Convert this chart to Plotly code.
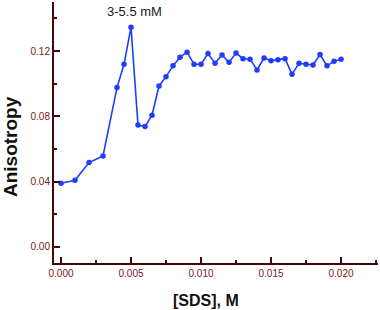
import plotly.graph_objects as go

sds = [0.0, 0.001, 0.002, 0.003, 0.004, 0.0045, 0.005, 0.0055, 0.006, 0.0065, 0.007,
       0.0075, 0.008, 0.0085, 0.009, 0.0095, 0.010, 0.0105, 0.011, 0.0115, 0.012,
       0.0125, 0.013, 0.0135, 0.014, 0.0145, 0.015, 0.0155, 0.016, 0.0165, 0.017,
       0.0175, 0.018, 0.0185, 0.019, 0.0195, 0.020]
anisotropy = [0.0390, 0.0408, 0.0517, 0.0557, 0.0976, 0.1119, 0.1346, 0.0747, 0.0737, 0.0807, 0.0986,
              0.1043, 0.1109, 0.1162, 0.1193, 0.1119, 0.1119, 0.1184, 0.1125, 0.1176, 0.1131,
              0.1187, 0.1153, 0.1150, 0.1084, 0.1157, 0.1141, 0.1147, 0.1153, 0.1058, 0.1125,
              0.1119, 0.1115, 0.1178, 0.1109, 0.1138, 0.1150]
annotation_text = "3-5.5 mM"
x_title = "[SDS], M"
y_title = "Anisotropy"

L, R, T, B = 54, 2, 2, 47
W, H = 380, 310
pw, ph = W - L - R, H - T - B

def px(xp):
    return (xp - L) / pw

def py(yp):
    return (H - B - yp) / ph

axis_col = "#4a0505"
lab_col = "#7a2020"
font_fam = "Liberation Sans, Arial, sans-serif"

fig = go.Figure()
fig.add_trace(go.Scatter(
    x=sds, y=anisotropy, mode="lines+markers",
    line=dict(color="#1f3cff", width=1.6),
    marker=dict(color="#1f3cff", size=5.5),
    showlegend=False,
))

fig.update_layout(
    width=W, height=H,
    margin=dict(l=L, r=R, t=T, b=B, autoexpand=False),
    paper_bgcolor="white", plot_bgcolor="white",
    font=dict(family=font_fam),
    xaxis=dict(
        range=[-0.0005, 0.02264], tick0=0, dtick=0.005, tickformat=".3f",
        showgrid=False, zeroline=False, automargin=False,
        showline=True, linecolor=axis_col, linewidth=2,
        ticks="inside", ticklen=6, tickwidth=2, tickcolor=axis_col,
        tickfont=dict(size=10, color=lab_col, family=font_fam),
        minor=dict(ticks="inside", ticklen=3, tickwidth=2, tickcolor=axis_col, dtick=0.0025, tick0=0, showgrid=False),
    ),
    yaxis=dict(
        range=[-0.0098, 0.150], tick0=0, dtick=0.04, tickformat=".2f",
        showgrid=False, zeroline=False, automargin=False,
        showline=True, linecolor=axis_col, linewidth=2,
        ticks="inside", ticklen=6, tickwidth=2, tickcolor=axis_col,
        tickfont=dict(size=10, color=lab_col, family=font_fam),
        minor=dict(ticks="inside", ticklen=3, tickwidth=2, tickcolor=axis_col, dtick=0.02, tick0=0, showgrid=False),
    ),
    annotations=[
        dict(text=annotation_text, xref="paper", yref="paper", x=px(134.5), y=py(12),
             xanchor="center", yanchor="middle", showarrow=False,
             font=dict(size=13, color="#1a1a1a", family=font_fam)),
        dict(text="<b>" + x_title + "</b>", xref="paper", yref="paper", x=px(205.5), y=py(300),
             xanchor="center", yanchor="middle", showarrow=False,
             font=dict(size=16, color="#111111", family=font_fam)),
        dict(text="<b>" + y_title + "</b>", xref="paper", yref="paper", x=px(10), y=py(147),
             xanchor="center", yanchor="middle", showarrow=False, textangle=-90,
             font=dict(size=19, color="#111111", family=font_fam)),
    ],
)

fig.write_html("out.html", config={"displayModeBar": False},
               post_script="document.body.style.margin='0px';document.body.style.overflow='hidden';")
